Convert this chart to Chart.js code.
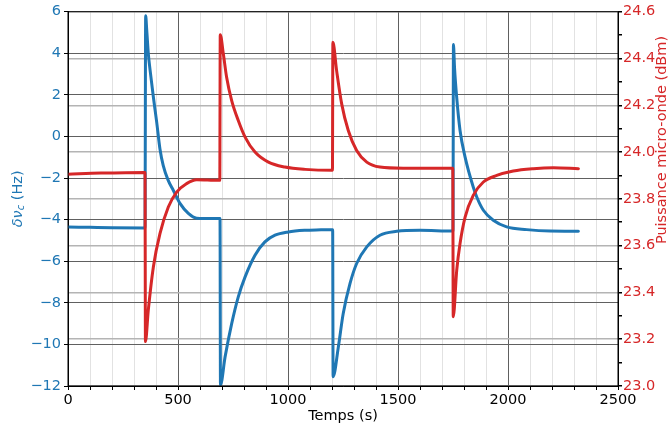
<!DOCTYPE html>
<html>
<head>
<meta charset="utf-8">
<script src="https://cdn.jsdelivr.net/npm/chart.js@4"></script>
<style>
  html, body { margin: 0; padding: 0; background: #fff; }
  #wrap { width: 668px; height: 431px; }
</style>
</head>
<body>
<div id="wrap"><canvas id="chart" width="668" height="431"></canvas></div>
<script>
// time axis (s)
const blueT = [0, 100, 200, 350, 353, 358, 365, 373, 388, 403, 418, 433, 455, 479, 509, 547, 585, 620, 691,
  693, 714, 744, 774, 805, 850, 895, 941, 1001, 1077, 1150, 1203,
  1205, 1229, 1251, 1282, 1312, 1358, 1418, 1494, 1600, 1750,
  1752, 1757, 1767, 1782, 1805, 1842, 1858, 1888, 1933, 1994, 2085, 2191, 2320];
// delta nu_c (Hz)
const blueV = [-4.35, -4.37, -4.39, -4.40, 5.8, 5.1, 4.0, 3.2, 1.9, 0.7, -0.6, -1.4, -2.1, -2.6, -3.22, -3.70, -3.93, -3.94, -3.95,
  -11.95, -10.6, -9.0, -7.71, -6.75, -5.71, -5.07, -4.75, -4.59, -4.51, -4.49, -4.48,
  -11.55, -10.11, -8.51, -7.07, -6.11, -5.31, -4.75, -4.56, -4.51, -4.55,
  4.42, 3.3, 1.85, 0.29, -0.99, -2.43, -2.91, -3.55, -4.03, -4.35, -4.48, -4.55, -4.56];

const redT = [0, 150, 350, 352, 365, 388, 418, 456, 494, 539, 585, 683, 690,
  692, 706, 721, 744, 774, 805, 850, 911, 986, 1077, 1202,
  1204, 1221, 1244, 1274, 1312, 1358, 1418, 1524, 1749,
  1751, 1767, 1782, 1805, 1842, 1888, 1949, 2024, 2115, 2206, 2320];
// microwave power (dBm)
const redV = [23.905, 23.91, 23.913, 23.19, 23.324, 23.509, 23.651, 23.765, 23.829, 23.865, 23.882, 23.879, 23.879,
  24.502, 24.42, 24.32, 24.22, 24.135, 24.064, 24.0, 23.957, 23.936, 23.926, 23.922,
  24.469, 24.348, 24.206, 24.092, 24.007, 23.957, 23.936, 23.931, 23.931,
  23.296, 23.495, 23.609, 23.722, 23.815, 23.872, 23.9, 23.919, 23.929, 23.933, 23.929];

const BLUE = "#1f77b4";
const RED = "#d62728";
const FONT = "DejaVu Sans";
const FS = 14.5;

Chart.defaults.font.family = FONT;
Chart.defaults.font.size = FS;

// axis titles + frame
const decorations = {
  id: "decorations",
  afterDraw(chart) {
    const ctx = chart.ctx;
    const a = chart.chartArea;
    ctx.save();

    ctx.strokeStyle = "#000";
    ctx.lineWidth = 1;
    ctx.strokeRect(a.left, a.top, a.right - a.left, a.bottom - a.top);

    ctx.textBaseline = "middle";

    // x title
    ctx.fillStyle = "#000";
    ctx.font = FS + "px " + FONT;
    ctx.textAlign = "center";
    ctx.fillText("Temps (s)", (a.left + a.right) / 2, 416);

    // left title: delta nu_c (Hz)
    const parts = [
      { t: "δν", font: "italic " + FS + "px " + FONT, dy: 0 },
      { t: "c", font: "italic 10px " + FONT, dy: 3 },
      { t: " (Hz)", font: FS + "px " + FONT, dy: 0 }
    ];
    let total = 0;
    parts.forEach(p => { ctx.font = p.font; p.w = ctx.measureText(p.t).width; total += p.w; });
    ctx.save();
    ctx.translate(18, (a.top + a.bottom) / 2);
    ctx.rotate(-Math.PI / 2);
    ctx.textAlign = "left";
    ctx.fillStyle = BLUE;
    let x = -total / 2;
    parts.forEach(p => { ctx.font = p.font; ctx.fillText(p.t, x, p.dy); x += p.w; });
    ctx.restore();

    // right title
    ctx.save();
    ctx.translate(662, 140);
    ctx.rotate(-Math.PI / 2);
    ctx.textAlign = "center";
    ctx.fillStyle = RED;
    ctx.font = FS + "px " + FONT;
    ctx.fillText("Puissance micro-onde (dBm)", 0, 0);
    ctx.restore();

    ctx.restore();
  }
};

const toPoints = (xs, ys) => xs.map((x, i) => ({ x: x, y: ys[i] }));

new Chart(document.getElementById("chart").getContext("2d"), {
  type: "line",
  data: {
    datasets: [
      {
        label: "Puissance",
        data: toPoints(redT, redV),
        yAxisID: "y2",
        borderColor: RED,
        borderWidth: 3,
        pointRadius: 0,
        cubicInterpolationMode: "monotone",
        borderCapStyle: "round",
        borderJoinStyle: "round",
        fill: false,
        order: 0
      },
      {
        label: "dnu",
        data: toPoints(blueT, blueV),
        yAxisID: "y",
        borderColor: BLUE,
        borderWidth: 3,
        pointRadius: 0,
        cubicInterpolationMode: "monotone",
        borderCapStyle: "round",
        borderJoinStyle: "round",
        fill: false,
        order: 1
      }
    ]
  },
  options: {
    responsive: false,
    animation: false,
    layout: { padding: { top: 11, left: 0, right: 0, bottom: 0 } },
    plugins: {
      legend: { display: false },
      tooltip: { enabled: false }
    },
    scales: {
      x: {
        type: "linear",
        min: 0,
        max: 2500,
        afterFit: s => { s.height = 45; },
        border: { color: "#000", width: 1 },
        grid: {
          color: c => (c.tick && c.tick.value % 500 === 0) ? "#606060" : "#e2e2e2",
          lineWidth: 1,
          tickLength: 4,
          tickColor: "#000"
        },
        ticks: {
          stepSize: 100,
          autoSkip: false,
          maxRotation: 0,
          color: "#000",
          padding: 2,
          callback: v => (v % 500 === 0 ? String(v) : "")
        }
      },
      y: {
        position: "left",
        min: -12,
        max: 6,
        afterFit: s => { s.width = 68; },
        border: { color: "#000", width: 1 },
        grid: { color: "#606060", lineWidth: 1, tickLength: 4, tickColor: "#000" },
        ticks: {
          stepSize: 2,
          color: BLUE,
          padding: 3,
          callback: v => String(v).replace("-", "\u2212")
        }
      },
      y2: {
        position: "right",
        min: 23,
        max: 24.6,
        afterFit: s => { s.width = 50; },
        border: { color: "#000", width: 1 },
        grid: {
          color: c => (c.tick && Math.round(c.tick.value * 10) % 2 === 0) ? "#b4b4b4" : "rgba(0,0,0,0)",
          lineWidth: 1.5,
          tickLength: 4,
          tickColor: "#000"
        },
        ticks: {
          stepSize: 0.1,
          autoSkip: false,
          color: RED,
          padding: 1,
          callback: v => (Math.round(v * 10) % 2 === 0 ? v.toFixed(1) : "")
        }
      }
    }
  },
  plugins: [decorations]
});
</script>
</body>
</html>
